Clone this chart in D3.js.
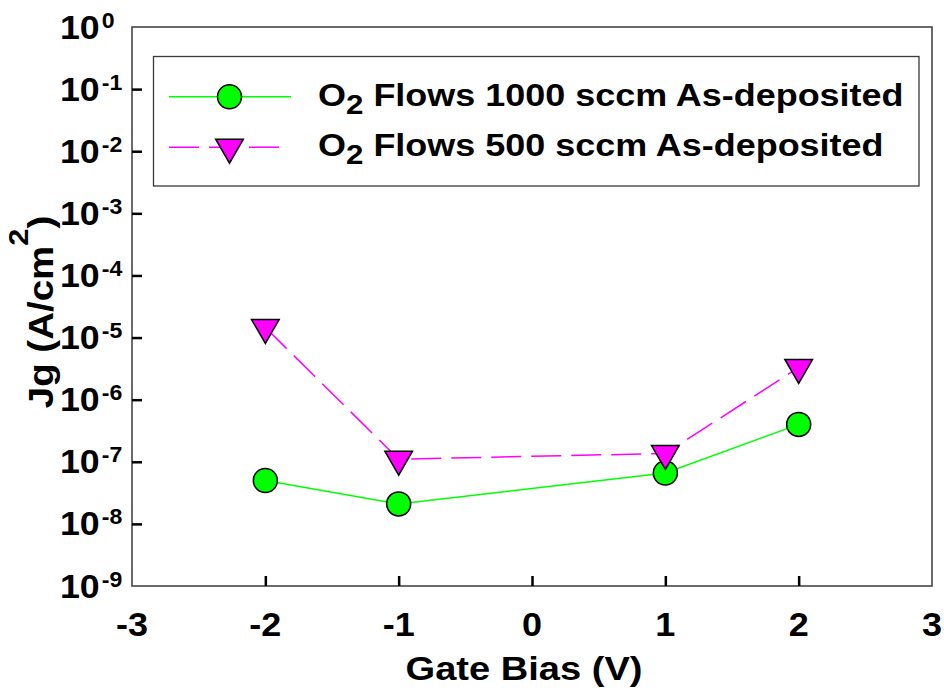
<!DOCTYPE html>
<html>
<head>
<meta charset="utf-8">
<script src="https://cdn.jsdelivr.net/npm/d3@7"></script>
<style>
  html, body { margin: 0; padding: 0; background: #fff; }
  svg { display: block; font-family: Arial, "Liberation Sans", sans-serif; font-weight: bold; }
</style>
</head>
<body>
<svg id="chart" width="944" height="691"></svg>
<script>
// Gate bias (V)
const gateBias = [-2, -1, 1, 2];
// Gate leakage current density Jg (A/cm^2)
const jg1000 = [5.0e-8, 2.1e-8, 6.6e-8, 4.0e-7];
const jg500  = [1.45e-5, 1.1e-7, 1.36e-7, 3.3e-6];
const seriesNames = ["Flows 1000 sccm As-deposited", "Flows 500 sccm As-deposited"];
const xTicks = [-3, -2, -1, 0, 1, 2, 3];
const yExponents = [0, -1, -2, -3, -4, -5, -6, -7, -8, -9];

const svg = d3.select("#chart");
const plot = { left: 132, right: 932, top: 27, bottom: 586 };

const x = d3.scaleLinear().domain([-3, 3]).range([plot.left, plot.right]);
const y = d3.scaleLog().domain([1e-9, 1]).range([plot.bottom, plot.top]);

const frameColor = "#3a3a3a";

// Frame
svg.append("rect")
  .attr("x", plot.left).attr("y", plot.top)
  .attr("width", plot.right - plot.left).attr("height", plot.bottom - plot.top)
  .attr("fill", "none").attr("stroke", frameColor).attr("stroke-width", 1.5);

// Inward tick marks (bottom)
const xAxis = d3.axisBottom(x).tickValues(xTicks.filter(t => t > -3 && t < 3))
  .tickSizeInner(-10).tickSizeOuter(0).tickFormat("");
const gx = svg.append("g").attr("transform", `translate(0,${plot.bottom})`).call(xAxis);
gx.select(".domain").remove();
gx.selectAll(".tick line").attr("stroke", "#000").attr("stroke-width", 2.5);

// Inward tick marks (left)
const yAxis = d3.axisLeft(y).tickValues(yExponents.filter(e => e < 0 && e > -9).map(e => Math.pow(10, e)))
  .tickSizeInner(-10).tickSizeOuter(0).tickFormat("");
const gy = svg.append("g").attr("transform", `translate(${plot.left},0)`).call(yAxis);
gy.select(".domain").remove();
gy.selectAll(".tick line").attr("stroke", "#000").attr("stroke-width", 2.5);

// X tick labels
svg.append("g").selectAll("text").data(xTicks).join("text")
  .attr("transform", d => `translate(${x(d)},636) scale(1.06,1)`)
  .attr("text-anchor", "middle")
  .attr("font-size", 34)
  .text(d => d);

// Y tick labels: 10 with superscript exponent
const yl = svg.append("g").selectAll("text").data(yExponents).join("text")
  .attr("transform", d => `translate(60,${y(Math.pow(10, d)) + 11.5}) scale(1.05,1)`)
  .attr("font-size", 34);
yl.append("tspan").text("10");
yl.append("tspan").attr("font-size", 22).attr("dx", 2).attr("dy", -11).text(d => d);

// Axis titles
svg.append("text")
  .attr("transform", "translate(524,680) scale(1.12,1)")
  .attr("text-anchor", "middle")
  .attr("font-size", 34)
  .text("Gate Bias (V)");

const yTitle = svg.append("text")
  .attr("transform", "translate(53,312) rotate(-90) scale(1.1,1)")
  .attr("text-anchor", "middle")
  .attr("font-size", 35);
yTitle.append("tspan").text("Jg (A/cm");
yTitle.append("tspan").attr("font-size", 28).attr("dy", -25).text("2");
yTitle.append("tspan").attr("dy", 25).text(")");

// Series
const series = [
  { name: seriesNames[0], values: jg1000, color: "#00ff00", dash: null, marker: "circle" },
  { name: seriesNames[1], values: jg500, color: "#ff00ff", dash: "30,10", marker: "triangle" }
];

const line = d3.line().x(d => x(d[0])).y(d => y(d[1]));
const triangle = d3.symbol().type(d3.symbolTriangle).size(330);

function drawMarker(g, kind, cx, cy) {
  if (kind === "circle") {
    g.append("circle").attr("cx", cx).attr("cy", cy).attr("r", 12)
      .attr("fill", "#00ff00").attr("stroke", "#000").attr("stroke-width", 1.5);
  } else {
    g.append("path").attr("d", triangle())
      .attr("transform", `translate(${cx},${cy}) rotate(180)`)
      .attr("fill", "#ff00ff").attr("stroke", "#000").attr("stroke-width", 1.5);
  }
}

series.forEach(s => {
  const pts = gateBias.map((b, i) => [b, s.values[i]]);
  svg.append("path").datum(pts)
    .attr("d", line)
    .attr("fill", "none")
    .attr("stroke", s.color)
    .attr("stroke-width", 1.5)
    .attr("stroke-dasharray", s.dash);
});
series.forEach(s => {
  const g = svg.append("g");
  gateBias.forEach((b, i) => drawMarker(g, s.marker, x(b), y(s.values[i])));
});

// Legend
const legend = svg.append("g");
legend.append("rect")
  .attr("x", 153.5).attr("y", 56.5).attr("width", 765.5).attr("height", 129.5)
  .attr("fill", "#fff").attr("stroke", frameColor).attr("stroke-width", 1.3);

const legendRows = [96.7, 147.2];
series.forEach((s, i) => {
  const ly = legendRows[i];
  legend.append("line")
    .attr("x1", 169).attr("x2", s.dash ? 279 : 291)
    .attr("y1", ly).attr("y2", ly)
    .attr("stroke", s.color).attr("stroke-width", 1.5)
    .attr("stroke-dasharray", s.dash);
  drawMarker(legend, s.marker, 229.5, ly);
  const t = legend.append("text")
    .attr("transform", `translate(318,${ly + 9}) scale(1.16,1)`)
    .attr("font-size", 31);
  t.append("tspan").text("O");
  t.append("tspan").attr("font-size", 27).attr("dy", 8).text("2");
  t.append("tspan").attr("dy", -8).text(" " + s.name);
});
</script>
</body>
</html>
